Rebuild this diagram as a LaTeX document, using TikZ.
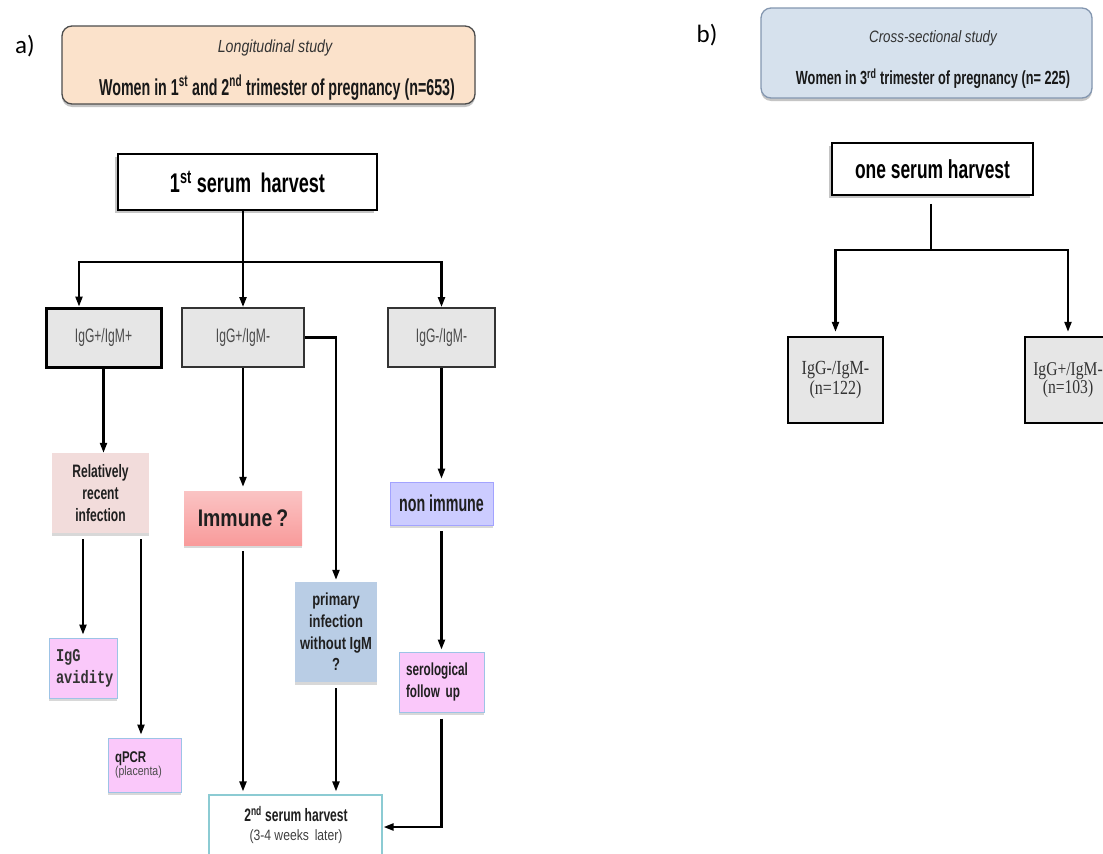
\documentclass[tikz,border=0pt]{standalone}
\usepackage{fontspec}
\setmainfont{Liberation Sans}
\newfontfamily\nA[FakeStretch=0.62]{Liberation Sans}
\newfontfamily\nB[FakeStretch=0.67]{Liberation Sans}
\newfontfamily\nC[FakeStretch=0.74]{Liberation Sans}
\newfontfamily\nD[FakeStretch=0.81]{Liberation Sans}
\newfontfamily\monof[FakeStretch=0.76]{Liberation Mono}
\newfontfamily\seriff[FakeStretch=0.8]{Liberation Serif}
\newfontfamily\labfont{Carlito}
\usetikzlibrary{arrows.meta,shadows}
\definecolor{peach}{HTML}{FBE2CB}
\definecolor{hdrblue}{HTML}{D6E1ED}
\definecolor{hdrline}{HTML}{8497B0}
\definecolor{boxgray}{HTML}{E6E6E6}
\definecolor{rrpink}{HTML}{F2DCDB}
\definecolor{immred}{HTML}{F8B0B0}
\definecolor{lav}{HTML}{CCCCFF}
\definecolor{steel}{HTML}{B9CDE5}
\definecolor{mag}{HTML}{FAC8FA}
\definecolor{lblue}{HTML}{9DC3E6}
\definecolor{teal}{HTML}{8CCBD3}
\begin{document}
\begin{tikzpicture}[x=1pt,y=-1pt,
  hdr/.style={draw=black!70, line width=1.3pt, rounded corners=10pt,
     drop shadow={shadow xshift=0pt, shadow yshift=-3pt, fill=black!45}},
  topbox/.style={draw=black, line width=1.6pt, fill=white, inner sep=0pt,
     drop shadow={shadow xshift=-3pt, shadow yshift=-3pt, fill=black!45}},
  graybox/.style={draw=black!80, line width=2pt, fill=boxgray, inner sep=0pt, align=center},
  colbox/.style={inner sep=0pt, align=center, text=black!88,
     drop shadow={shadow xshift=0pt, shadow yshift=-3pt, fill=black!30}},
  magbox/.style={colbox, fill=mag, draw=lblue, line width=1pt},
  arr/.style={-{Triangle[length=10pt,width=7pt]}, line width=2.2pt},
  ln/.style={line width=2.2pt}]
\useasboundingbox (0,0) rectangle (1103,854);
\clip (0,0) rectangle (1103,854);
\fill[white] (0,0) rectangle (1103,854);

% ---------- panel a ----------
\node[font=\labfont\fontsize{25}{28}\selectfont] (la) at (25,46) {a)};
\node[hdr, fill=peach, minimum width=413, minimum height=78] (hA) at (268.5,65) {};
\node[font=\nD\itshape\fontsize{17.5}{20}\selectfont, text=black!80] (hA1) at (275,48) {Longitudinal study};
\node[font=\nA\bfseries\fontsize{23}{26}\selectfont, text=black!90] (hA2) at (277,88)
  {Women in 1\textsuperscript{st} and 2\textsuperscript{nd} trimester of pregnancy (n=653)};

\node[topbox, minimum width=259, minimum height=56,
  font=\nB\bfseries\fontsize{27}{30}\selectfont] (s1) at (247.5,182) {1\textsuperscript{st} serum\, harvest};

\node[graybox, line width=3pt, draw=black, minimum width=115, minimum height=59,
  font=\nA\fontsize{19.5}{22}\selectfont, text=black!70] (g1) at (103.5,337.5) {IgG+/IgM+};
\node[graybox, minimum width=122, minimum height=59,
  font=\nA\fontsize{19.5}{22}\selectfont, text=black!70] (g2) at (243,337.5) {IgG+/IgM-};
\node[graybox, minimum width=107, minimum height=59,
  font=\nA\fontsize{19.5}{22}\selectfont, text=black!70] (g3) at (441.5,337.5) {IgG-/IgM-};

\node[colbox, fill=rrpink, minimum width=97, minimum height=80,
  font=\nB\bfseries\fontsize{18}{22}\selectfont] (rr) at (100.5,493)
  {Relatively\\recent\\infection};
\node[colbox, top color=immred!75, bottom color=immred!85!red!95, minimum width=118, minimum height=54,
  font=\nD\bfseries\fontsize{24}{26}\selectfont] (imm) at (243,518) {Immune\,?};
\node[colbox, fill=lav, draw=lav!80!blue, line width=0.6pt, minimum width=103, minimum height=43,
  font=\nA\bfseries\fontsize{23}{25}\selectfont] (non) at (441.5,503.5) {non immune};
\node[colbox, fill=steel, minimum width=82, minimum height=100,
  font=\nC\bfseries\fontsize{17.5}{21.7}\selectfont] (prim) at (336,632)
  {primary\\infection\\without IgM\\?};
\node[magbox, minimum width=68, minimum height=60, inner xsep=7pt, text width=54, align=left,
  font=\monof\bfseries\fontsize{18}{22}\selectfont, text=black!80] (avid) at (83,668)
  {IgG\\avidity};
\node[magbox, minimum width=73, minimum height=54, inner xsep=7pt, text width=59, align=left] (qpcr) at (144.5,765)
  {{\nC\bfseries\fontsize{15.5}{19}\selectfont qPCR}\\{\nD\fontsize{13}{16}\selectfont\color{black!70}(placenta)}};
\node[magbox, minimum width=85, minimum height=60, inner xsep=7pt, text width=71, align=left,
  font=\nB\bfseries\fontsize{17.5}{22}\selectfont] (ser) at (441.5,682)
  {serological\\follow up};
\node[draw=teal, line width=1.2pt, fill=white, minimum width=173, minimum height=64, inner sep=0pt] (s2) at (295.5,827) {};
\node[font=\nB\bfseries\fontsize{18}{20}\selectfont, text=black!88] (s2a) at (296,814)
  {2\textsuperscript{nd} serum harvest};
\node[font=\nD\fontsize{15}{17}\selectfont, text=black!75] (s2b) at (296,837) {(3-4 weeks\, later)};

% connectors a
\coordinate (j1) at (243,262);
\draw[ln] (s1.south -| j1) -- (j1);
\draw[arr] (j1) -| ([xshift=-24.5pt]g1.north);
\draw[arr] (j1) -| (g3.north);
\draw[arr] (j1) -- (j1 |- g2.north);
\draw[arr] (g1.south) -- (g1.south |- rr.north);
\draw[arr] (g2.south) -- ([yshift=4pt]imm.north);
\draw[arr] (g2.east) -| ([yshift=2pt]prim.north);
\draw[arr] (g3.south) -- ([yshift=3pt]non.north);
\draw[arr] ([yshift=-6pt]rr.south -| avid.north) -- ([yshift=3pt]avid.north);
\draw[arr] ([xshift=-3.5pt,yshift=-6pt]rr.south -| qpcr.north) -- ([xshift=-3.5pt,yshift=3pt]qpcr.north);
\draw[arr] ([yshift=-6pt]imm.south) -- ([yshift=3pt]imm.south |- s2.north);
\draw[arr] ([yshift=-6pt]prim.south) -- ([yshift=3pt]prim.south |- s2.north);
\draw[arr] ([yshift=-6pt]non.south) -- ([yshift=2pt]ser.north);
\draw[arr] ([yshift=-6pt]ser.south) |- ([xshift=1pt]s2.east);

% ---------- panel b ----------
\node[font=\labfont\fontsize{25}{28}\selectfont] (lb) at (707,35) {b)};
\node[hdr, fill=hdrblue, draw=hdrline, minimum width=331, minimum height=90] (hB) at (926.5,53) {};
\node[font=\nD\itshape\fontsize{16.5}{19}\selectfont, text=black!80] (hB1) at (933,38) {Cross-sectional study};
\node[font=\nB\bfseries\fontsize{19}{22}\selectfont, text=black!90] (hB2) at (933,79)
  {Women in 3\textsuperscript{rd} trimester of pregnancy (n= 225)};
\node[topbox, minimum width=201, minimum height=52,
  font=\nB\bfseries\fontsize{26}{28}\selectfont] (os) at (932.5,169) {one serum harvest};
\node[graybox, draw=black, line width=2.4pt, minimum width=95, minimum height=86,
  font=\seriff\fontsize{20}{16}\selectfont, text=black!80] (bn) at (835.5,380) {IgG-/IgM-\\(n=122)};
\node[graybox, draw=black, line width=2.4pt, minimum width=86, minimum height=86,
  font=\seriff\fontsize{19.5}{16}\selectfont, text=black!80] (bp) at (1068,380) {IgG+/IgM-\\(n=103)};
\coordinate (j2) at (931,250);
\draw[ln] ([yshift=-8pt]os.south -| j2) -- (j2);
\draw[arr] (j2) -| ([yshift=4pt]bn.north);
\draw[arr] (j2) -| ([yshift=4pt]bp.north);
\end{tikzpicture}
\end{document}
